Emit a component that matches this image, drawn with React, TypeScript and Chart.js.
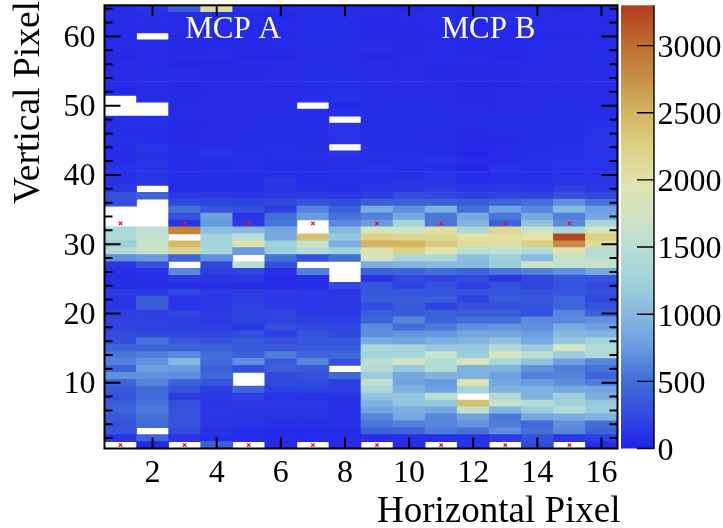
import React, { useEffect, useRef } from "react";
import { Chart, registerables } from "chart.js";

Chart.register(...registerables);

const _ = null;
const columns = ["1","2","3","4","5","6","7","8","9","10","11","12","13","14","15","16"];
const xTickValues = [2,4,6,8,10,12,14,16];
const yTickValues = [2,4,6,8,10,12,14,16,18,20,22,24,26,28,30,32,34,36,38,40,42,44,46,48,50,52,54,56,58,60,62,64];
const zTickValues = [0,500,1000,1500,2000,2500,3000];
const zMax = 3300;
const flaggedColumns = ["1","3","5","7","9","11","13","15"];
const flaggedRows = [1, 33];

// counts[0] is vertical pixel 1, counts[63] is vertical pixel 64; null = empty (white)
const counts: (number | null)[][] = [
  [_,50,_,400,_,60,_,60, _,60,_,100,_,250,_,60],
  [120,430,100,80,60,60,60,60, 70,90,70,110,150,300,130,170],
  [300,_,250,100,80,60,60,70, 410,430,580,530,670,530,630,430],
  [300,480,300,130,100,90,90,90, 560,600,630,720,580,460,680,500],
  [350,520,300,120,120,100,100,90, 630,850,640,820,560,850,880,950],
  [420,560,300,130,120,110,110,80, 820,900,850,1600,950,1200,1450,1200],
  [370,520,280,120,130,130,130,110, 950,1120,1150,2400,1650,1450,1250,1150],
  [300,480,150,130,170,110,120,100, 1100,1150,1500,_,1400,950,1200,900],
  [370,480,310,180,430,180,190,180, 1350,930,780,1300,950,950,850,840],
  [430,640,420,330,_,230,230,170, 1550,820,750,1950,850,750,680,580],
  [700,700,690,460,_,240,290,470, 1200,850,950,950,800,600,620,420],
  [430,790,750,400,280,400,350,_, 1450,1150,1450,950,950,700,600,520],
  [600,700,1000,480,680,360,620,280, 1500,1750,1450,1850,1350,1100,800,630],
  [550,600,650,500,400,580,420,460, 1300,1300,1650,1200,1800,1550,1200,1400],
  [420,430,430,410,360,350,350,350, 1350,1300,1150,1150,1400,1200,1800,1450],
  [280,520,350,300,340,280,330,330, 900,820,900,950,1100,850,1150,1300],
  [250,230,220,200,280,170,330,230, 670,720,720,830,830,780,1000,950],
  [200,200,180,170,130,280,230,210, 660,500,560,680,720,680,900,800],
  [190,190,190,150,200,200,170,170, 420,620,420,500,500,650,650,700],
  [170,170,210,150,200,210,150,150, 380,370,400,380,380,280,620,410],
  [120,380,100,130,190,150,130,140, 240,370,190,300,300,300,420,300],
  [120,380,100,130,170,140,130,130, 380,380,400,200,370,330,420,220],
  [180,130,220,130,170,130,130,130, 330,320,300,300,310,310,330,300],
  [70,70,80,80,70,60,70,250, 320,200,300,180,280,220,300,240],
  [70,90,150,110,130,60,80,_, 120,240,200,250,130,220,320,300],
  [90,100,650,170,220,90,600,_, 430,420,500,430,550,600,680,850],
  [130,300,_,230,1500,280,_,_, 900,950,1000,1000,1200,1700,1600,1650],
  [700,750,430,700,_,520,280,500, 1800,1350,1400,1050,1250,1000,1650,1500],
  [1450,1650,2150,1350,750,1200,1450,1250, 1950,2250,2000,1500,1550,1450,1950,1450],
  [1200,1650,2450,1300,1950,1250,1650,900, 2500,2500,2300,2100,2050,2250,2800,2100],
  [1400,1600,_,1280,1500,850,2400,1150, 2250,2150,2150,2000,2050,2000,3250,2250],
  [1350,1550,2850,1050,1000,850,_,980, 1750,1700,2050,1400,2150,1700,1350,1850],
  [_,_,100,750,150,550,_,650, 750,1300,550,950,420,1100,650,1300],
  [_,_,300,800,120,500,750,520, 600,850,550,850,550,850,600,850],
  [_,_,520,330,300,170,620,400, 900,700,950,500,800,650,1000,780],
  [280,_,230,200,200,240,300,260, 400,400,400,370,420,500,700,520],
  [280,430,130,150,130,150,150,130, 170,260,230,200,210,200,280,240],
  [130,_,70,80,80,110,90,80, 110,120,160,110,130,110,180,130],
  [90,120,70,70,80,130,80,90, 100,120,100,80,90,80,120,110],
  [80,110,70,70,60,70,70,80, 90,90,110,70,90,90,100,100],
  [100,120,70,80,90,70,70,90, 100,90,80,50,100,80,100,110],
  [70,100,60,80,80,70,80,90, 90,90,100,60,70,90,100,100],
  [60,90,70,130,90,90,90,120, 90,80,80,30,70,80,90,100],
  [80,120,70,90,70,90,80,_, 80,70,60,40,60,80,90,110],
  [90,80,50,60,70,70,70,100, 70,70,70,50,50,80,80,110],
  [70,70,60,70,70,80,80,110, 70,80,60,50,60,80,80,100],
  [80,90,50,60,60,70,70,120, 70,80,70,60,70,70,70,90],
  [90,80,60,60,70,70,80,_, 70,70,70,70,70,80,70,80],
  [_,_,60,70,70,70,80,80, 70,80,70,70,60,70,70,70],
  [_,_,60,70,70,70,_,50, 60,70,70,60,60,60,70,70],
  [_,70,50,60,60,60,90,110, 70,70,60,50,60,70,70,70],
  [50,60,50,60,70,60,80,80, 60,60,60,50,60,60,60,60],
  [60,70,50,60,60,60,70,70, 70,70,60,50,50,60,60,70],
  [60,70,60,50,50,70,70,70, 60,70,60,60,60,60,60,60],
  [60,80,60,50,50,60,70,70, 60,60,50,50,50,70,60,60],
  [60,70,50,50,60,60,60,60, 60,60,60,60,60,60,60,70],
  [50,60,60,60,50,50,70,70, 50,60,70,60,50,60,70,70],
  [60,70,50,60,50,60,60,60, 70,50,70,50,50,60,60,70],
  [60,80,60,50,60,60,70,70, 60,60,60,50,50,60,60,60],
  [60,_,60,50,60,60,70,70, 60,50,50,50,50,50,60,60],
  [60,70,60,60,60,60,70,70, 50,50,60,50,50,60,60,60],
  [60,80,60,60,60,60,80,70, 50,60,70,50,60,60,70,60],
  [60,90,70,70,70,50,70,70, 60,60,80,50,80,60,60,70],
  [60,100,400,2100,90,60,70,60, 60,50,70,50,60,60,50,60],
];

const colorStops: [number, number, number, number][] = [
  [0, 33, 33, 235], [250, 50, 75, 222], [500, 65, 110, 215], [750, 105, 155, 225],
  [1000, 135, 185, 225], [1250, 160, 210, 220], [1500, 185, 222, 212], [1750, 210, 228, 195],
  [2000, 226, 226, 170], [2250, 220, 208, 132], [2500, 212, 180, 98], [2750, 200, 145, 70],
  [3000, 190, 110, 50], [3300, 180, 60, 30],
];

function colorFor(v: number): string {
  for (let i = 1; i < colorStops.length; i++) {
    const a = colorStops[i - 1];
    const b = colorStops[i];
    if (v <= b[0]) {
      const t = (v - a[0]) / (b[0] - a[0]);
      return `rgb(${a[1] + (b[1] - a[1]) * t},${a[2] + (b[2] - a[2]) * t},${a[3] + (b[3] - a[3]) * t})`;
    }
  }
  const l = colorStops[colorStops.length - 1];
  return `rgb(${l[1]},${l[2]},${l[3]})`;
}

const SERIF = "'Liberation Serif'";

const framePlugin = {
  id: "frame",
  afterDatasetsDraw(chart: any) {
    const { ctx, chartArea: a, scales } = chart;
    const { x, y, z } = scales;
    ctx.save();
    // colour bar
    const barL = 621, barR = 654;
    const g = ctx.createLinearGradient(0, z.getPixelForValue(0), 0, z.getPixelForValue(zMax));
    colorStops.forEach((s) => g.addColorStop(s[0] / zMax, colorFor(s[0])));
    ctx.fillStyle = g;
    ctx.fillRect(barL, a.top, barR - barL, a.bottom - a.top);
    ctx.strokeStyle = "#000";
    ctx.lineWidth = 1.4;
    ctx.beginPath();
    ctx.moveTo(barR, a.top);
    ctx.lineTo(barR, a.bottom + 0.5);
    zTickValues.forEach((v) => {
      const p = z.getPixelForValue(v);
      ctx.moveTo(barR - 17, p);
      ctx.lineTo(barR, p);
    });
    ctx.stroke();
    // ticks
    ctx.lineWidth = 2;
    ctx.beginPath();
    xTickValues.forEach((v) => {
      const p = x.getPixelForValue(String(v));
      ctx.moveTo(p, a.bottom);
      ctx.lineTo(p, a.bottom - 11);
      ctx.moveTo(p, a.top);
      ctx.lineTo(p, a.top + 11);
    });
    yTickValues.forEach((v) => {
      const p = y.getPixelForValue(v);
      const len = v % 10 === 0 ? 16 : 8;
      ctx.moveTo(a.left, p);
      ctx.lineTo(a.left + len, p);
      ctx.moveTo(a.right, p);
      ctx.lineTo(a.right - len, p);
    });
    ctx.stroke();
    ctx.strokeRect(a.left, a.top, a.right - a.left, a.bottom - a.top);
    // labels
    ctx.fillStyle = "#fff";
    ctx.font = `31px ${SERIF}`;
    ctx.textAlign = "center";
    ctx.textBaseline = "alphabetic";
    ctx.fillText("MCP A", 233, 38);
    ctx.fillText("MCP B", 488.5, 38);
    ctx.fillStyle = "#000";
    ctx.font = `37px ${SERIF}`;
    ctx.textAlign = "right";
    ctx.fillText("Horizontal Pixel", 620.5, 522);
    ctx.translate(38.5, 0);
    ctx.rotate(-Math.PI / 2);
    ctx.font = `37.5px ${SERIF}`;
    ctx.fillText("Vertical Pixel", -1, 0);
    ctx.restore();
  },
};

const noEdgePadding = (s: any) => {
  s.paddingTop = 0;
  s.paddingBottom = 0;
  s.paddingLeft = 0;
  s.paddingRight = 0;
};

export default function App() {
  const ref = useRef<HTMLCanvasElement>(null);
  useEffect(() => {
    if (!ref.current) return;
    const rowSets = counts.map((row, i) => ({
      type: "bar" as const,
      label: `row ${i + 1}`,
      data: row.map((v) => (v === null ? null : [i + 0.5, i + 1.5])),
      backgroundColor: row.map((v) => (v === null ? "#fff" : colorFor(v))),
      borderWidth: 0,
      grouped: false,
      barPercentage: 1,
      categoryPercentage: 1,
      order: 2,
    }));
    const flags = {
      type: "line" as const,
      label: "flagged",
      data: flaggedRows.flatMap((r) => flaggedColumns.map((c) => ({ x: c, y: r }))),
      showLine: false,
      pointStyle: "crossRot",
      pointRadius: 2.4,
      pointBorderWidth: 1.3,
      pointBorderColor: "#f01020",
      order: 1,
    };
    const chart = new Chart(ref.current, {
      data: { labels: columns, datasets: [...rowSets, flags] as any },
      plugins: [framePlugin],
      options: {
        animation: false,
        responsive: false,
        layout: { padding: { top: 5, left: 0, right: 0, bottom: 0 } },
        plugins: { legend: { display: false }, tooltip: { enabled: false } },
        scales: {
          x: {
            type: "category",
            offset: true,
            grid: { display: false, drawTicks: false },
            border: { display: false },
            ticks: {
              autoSkip: false,
              maxRotation: 0,
              padding: 6,
              color: "#000",
              font: { family: SERIF, size: 32 },
              callback: (_v: any, i: number) => (xTickValues.includes(i + 1) ? String(i + 1) : ""),
            },
            afterFit: (s: any) => { s.height = 79.5; noEdgePadding(s); },
          },
          y: {
            type: "linear",
            min: 0.5,
            max: 64.5,
            position: "left",
            grid: { display: false, drawTicks: false },
            border: { display: false },
            afterBuildTicks: (s: any) => { s.ticks = yTickValues.filter((v) => v % 10 === 0).map((value) => ({ value })); },
            ticks: {
              padding: 9,
              labelOffset: 2,
              color: "#000",
              font: { family: SERIF, size: 32 },
            },
            afterFit: (s: any) => { s.width = 104.5; noEdgePadding(s); },
          },
          z: {
            type: "linear",
            min: 0,
            max: zMax,
            position: "right",
            grid: { display: false, drawTicks: false },
            border: { display: false },
            afterBuildTicks: (s: any) => { s.ticks = zTickValues.map((value) => ({ value })); },
            ticks: {
              padding: 40,
              labelOffset: 3,
              color: "#000",
              font: { family: SERIF, size: 32 },
              callback: (v: any) => String(v),
            },
            afterFit: (s: any) => { s.width = 105.5; noEdgePadding(s); },
          },
        },
      } as any,
    });
    return () => chart.destroy();
  }, []);
  return (
    <canvas
      ref={ref}
      width={723}
      height={528}
      style={{ position: "fixed", left: 0, top: 0, display: "block", background: "#fff" }}
    />
  );
}
